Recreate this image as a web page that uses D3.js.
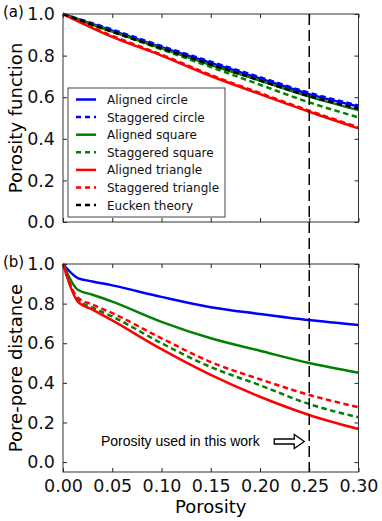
<!DOCTYPE html>
<html>
    <head>
        <title>porosity figure</title>
        <script src="https://d3js.org/d3.v7.min.js"></script>
        <style>
            body { margin: 0; background: white; }
            svg { display: block; }
            .tick text { font-family: "DejaVu Sans", sans-serif; }
        </style>
    </head>

    <body>
        <svg id="myCanvas" width="382" height="521"></svg>

        <script>
            // panel (a): porosity function
            var porosityA = [0, 0.05, 0.10, 0.15, 0.20, 0.25, 0.30];
            var alignedCircleA    = [1.0, 0.920, 0.840, 0.765, 0.690, 0.615, 0.555];
            var staggeredCircleA  = [1.0, 0.925, 0.846, 0.771, 0.696, 0.621, 0.560];
            var alignedSquareA    = [1.0, 0.915, 0.835, 0.755, 0.680, 0.603, 0.538];
            var staggeredSquareA  = [1.0, 0.915, 0.830, 0.745, 0.660, 0.575, 0.503];
            var alignedTriangleA  = [1.0, 0.890, 0.800, 0.702, 0.615, 0.530, 0.450];
            var staggeredTriangleA= [1.0, 0.895, 0.805, 0.707, 0.620, 0.535, 0.455];
            var euckenA           = [1.0, 0.915, 0.835, 0.757, 0.680, 0.605, 0.545];

            // panel (b): pore-pore distance
            var porosityB = [0, 0.015, 0.03, 0.05, 0.10, 0.15, 0.20, 0.25, 0.30];
            var alignedCircleB    = [1.0, 0.929, 0.912, 0.892, 0.834, 0.782, 0.748, 0.717, 0.692];
            var alignedSquareB    = [1.0, 0.870, 0.845, 0.810, 0.708, 0.625, 0.562, 0.500, 0.451];
            var staggeredSquareB  = [1.0, 0.820, 0.780, 0.735, 0.600, 0.480, 0.388, 0.293, 0.226];
            var alignedTriangleB  = [1.0, 0.810, 0.770, 0.715, 0.570, 0.440, 0.330, 0.238, 0.167];
            var staggeredTriangleB= [1.0, 0.830, 0.795, 0.752, 0.625, 0.505, 0.418, 0.339, 0.277];

            var xTicks = [0, 0.05, 0.10, 0.15, 0.20, 0.25, 0.30];
            var yTicks = [0, 0.2, 0.4, 0.6, 0.8, 1.0];
            var workPorosity = 0.25;

            var seriesA = [
                {name: "Aligned circle",     color: "#0000ff", dash: null,      v: alignedCircleA},
                {name: "Staggered circle",   color: "#0000ff", dash: "5.5,3.5", v: staggeredCircleA},
                {name: "Aligned square",     color: "#008000", dash: null,      v: alignedSquareA},
                {name: "Staggered square",   color: "#008000", dash: "5.5,3.5", v: staggeredSquareA},
                {name: "Aligned triangle",   color: "#ff0000", dash: null,      v: alignedTriangleA},
                {name: "Staggered triangle", color: "#ff0000", dash: "5.5,3.5", v: staggeredTriangleA},
                {name: "Eucken theory",      color: "#000000", dash: "5.5,3.5", v: euckenA}
            ];
            var seriesB = [
                {color: "#0000ff", dash: null,      v: alignedCircleB},
                {color: "#008000", dash: null,      v: alignedSquareB},
                {color: "#008000", dash: "5.5,3.5", v: staggeredSquareB},
                {color: "#ff0000", dash: null,      v: alignedTriangleB},
                {color: "#ff0000", dash: "5.5,3.5", v: staggeredTriangleB}
            ];

            svg = d3.select("#myCanvas");

            x = d3.scaleLinear([0, 0.3], [63, 358.5]);
            yA = d3.scaleLinear([0, 1], [222, 14]);
            yB = d3.scaleLinear([-0.05, 1], [472, 264]);

            function drawPanel(y, series, xs, label, ylabel, showX) {
                g = svg.append("g");

                g.append("rect")
                    .attr("x", x.range()[0]).attr("y", y.range()[1])
                    .attr("width", x.range()[1] - x.range()[0])
                    .attr("height", y.range()[0] - y.range()[1])
                    .attr("fill", "white");

                line = d3.line()
                    .x((d, i) => x(xs[i]))
                    .y(d => y(d))
                    .curve(d3.curveMonotoneX);

                g.selectAll("path.series")
                    .data(series)
                    .join("path")
                    .attr("class", "series")
                    .attr("d", d => line(d.v))
                    .attr("fill", "none")
                    .attr("stroke", d => d.color)
                    .attr("stroke-width", 2.5)
                    .attr("stroke-dasharray", d => d.dash);

                // axes, classic style ticks pointing inwards on all four sides
                bottom = g.append("g")
                    .attr("transform", "translate(0," + y.range()[0] + ")")
                    .call(d3.axisBottom(x).tickValues(xTicks).tickSize(-4)
                        .tickFormat(showX ? d3.format(".2f") : ""));
                top_ = g.append("g")
                    .attr("transform", "translate(0," + y.range()[1] + ")")
                    .call(d3.axisTop(x).tickValues(xTicks).tickSize(-4).tickFormat(""));
                left = g.append("g")
                    .attr("transform", "translate(" + x.range()[0] + ",0)")
                    .call(d3.axisLeft(y).tickValues(yTicks).tickSize(-4)
                        .tickPadding(8).tickFormat(d3.format(".1f")));
                right = g.append("g")
                    .attr("transform", "translate(" + x.range()[1] + ",0)")
                    .call(d3.axisRight(y).tickValues(yTicks).tickSize(-4).tickFormat(""));

                g.selectAll(".domain").remove();
                g.selectAll(".tick line").attr("stroke", "#222");
                g.selectAll(".tick text")
                    .attr("font-size", 17.5)
                    .attr("fill", "#111");
                bottom.selectAll(".tick text").attr("y", 8).attr("dy", "0.71em");

                g.append("rect")
                    .attr("x", x.range()[0]).attr("y", y.range()[1])
                    .attr("width", x.range()[1] - x.range()[0])
                    .attr("height", y.range()[0] - y.range()[1])
                    .attr("fill", "none")
                    .attr("stroke", "#333")
                    .attr("stroke-width", 1);

                g.append("text")
                    .attr("x", 3).attr("y", y.range()[1] + 3)
                    .attr("font-family", "DejaVu Sans")
                    .attr("font-size", 15)
                    .text(label);

                cy = (y.range()[0] + y.range()[1]) / 2;
                g.append("text")
                    .attr("transform", "translate(22," + cy + ") rotate(-90)")
                    .attr("text-anchor", "middle")
                    .attr("font-family", "DejaVu Sans")
                    .attr("font-size", 18)
                    .text(ylabel);
            }

            drawPanel(yA, seriesA, porosityA, "(a)", "Porosity function", false);
            drawPanel(yB, seriesB, porosityB, "(b)", "Pore-pore distance", true);

            // legend in panel (a)
            legend = svg.append("g").attr("transform", "translate(68,88)");
            legend.append("rect")
                .attr("width", 157).attr("height", 129)
                .attr("fill", "white")
                .attr("stroke", "#444")
                .attr("stroke-width", 1);
            rows = legend.selectAll("g.row")
                .data(seriesA)
                .join("g")
                .attr("class", "row")
                .attr("transform", (d, i) => "translate(0," + (11.5 + i * 17.6) + ")");
            rows.append("line")
                .attr("x1", 8).attr("x2", 28)
                .attr("stroke", d => d.color)
                .attr("stroke-width", 2.5)
                .attr("stroke-dasharray", d => d.dash ? "5,4" : null);
            rows.append("text")
                .attr("x", 39).attr("y", 4.5)
                .attr("font-family", "DejaVu Sans")
                .attr("font-size", 12)
                .attr("fill", "#111")
                .text(d => d.name);

            // vertical line at the porosity used in this work
            svg.append("line")
                .attr("x1", x(workPorosity)).attr("x2", x(workPorosity))
                .attr("y1", yA(1)).attr("y2", yB(-0.05))
                .attr("stroke", "black")
                .attr("stroke-width", 1.5)
                .attr("stroke-dasharray", "11,5");

            svg.append("text")
                .attr("x", 101).attr("y", 446)
                .attr("font-family", "Liberation Sans")
                .attr("font-size", 14)
                .text("Porosity used in this work");

            // hollow arrow pointing to the line
            ax = x(workPorosity) - 35, ay = 441.5;
            svg.append("path")
                .attr("d", d3.line()([
                    [ax, ay - 2.5], [ax + 20, ay - 2.5], [ax + 20, ay - 7],
                    [ax + 30, ay], [ax + 20, ay + 7], [ax + 20, ay + 2.5],
                    [ax, ay + 2.5]]) + "Z")
                .attr("fill", "white")
                .attr("stroke", "black")
                .attr("stroke-width", 1.3);

            svg.append("text")
                .attr("x", (x.range()[0] + x.range()[1]) / 2).attr("y", 513)
                .attr("text-anchor", "middle")
                .attr("font-family", "DejaVu Sans")
                .attr("font-size", 18)
                .text("Porosity");
        </script>
    </body>
</html>
